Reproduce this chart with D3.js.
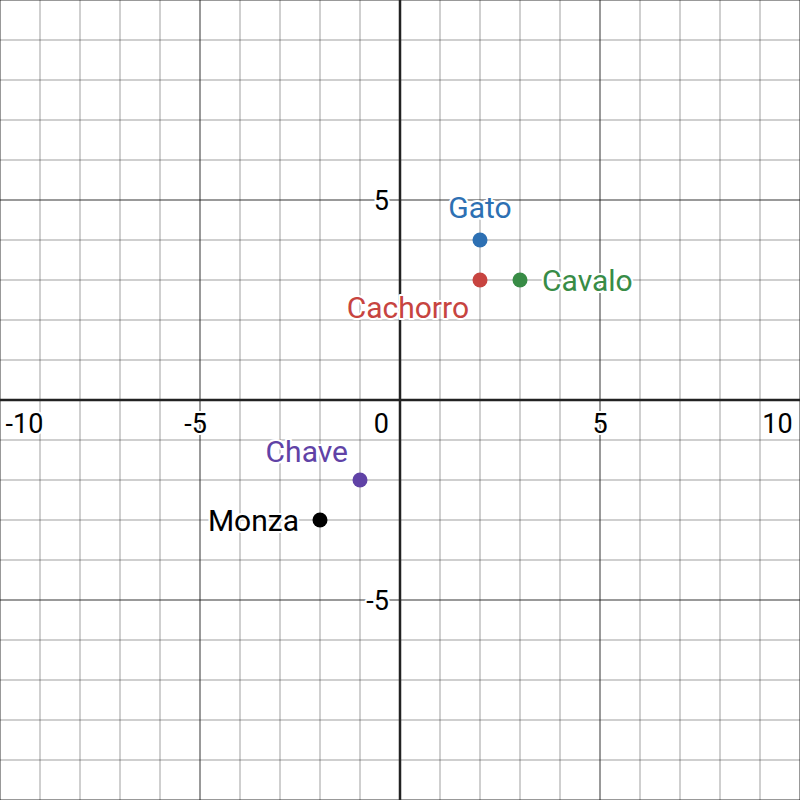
<!DOCTYPE html>
<html><head><meta charset="utf-8">
<script src="https://cdn.jsdelivr.net/npm/d3@7/dist/d3.min.js"></script>
<style>html,body{margin:0;padding:0;background:#fff;}svg{display:block;font-family:Roboto,"Noto Sans",sans-serif;font-weight:400;}</style>
</head><body><svg id="c" width="800" height="800"></svg>
<script>
const names = ["Gato", "Cachorro", "Cavalo", "Chave", "Monza"];
const xs = [2, 2, 3, -1, -2];
const ys = [4, 3, 3, -2, -3];
const colors = ["#2d70b3", "#c74440", "#388c46", "#6042a6", "#000000"];
const labelPos = ["above", "belowLeft", "right", "aboveLeft", "left"];
const xTicks = [-10, -5, 0, 5, 10];
const yTicks = [-5, 5];
const domain = [-10, 10];

const W = 800, H = 800;
const svg = d3.select("#c");
const x = d3.scaleLinear().domain(domain).range([0, W]);
const y = d3.scaleLinear().domain(domain).range([H, 0]);

const gridVals = d3.range(domain[0], domain[1] + 1, 1);
const g = svg.append("g");
const minors = gridVals.filter(v => v % 5 !== 0);
const majors = gridVals.filter(v => v % 5 === 0 && v !== 0);
function vlines(data, color) {
  g.append("g").selectAll("line").data(data).join("line")
    .attr("x1", d => x(d)).attr("x2", d => x(d))
    .attr("y1", 0).attr("y2", H).attr("stroke", color).attr("stroke-width", 2);
}
function hlines(data, color) {
  g.append("g").selectAll("line").data(data).join("line")
    .attr("y1", d => y(d)).attr("y2", d => y(d))
    .attr("x1", 0).attr("x2", W).attr("stroke", color).attr("stroke-width", 2);
}
vlines(minors, "rgba(0,0,0,0.19)");
hlines(minors, "rgba(0,0,0,0.19)");
vlines(majors, "rgba(0,0,0,0.4)");
hlines(majors, "rgba(0,0,0,0.4)");
// axes
svg.append("line").attr("x1", 0).attr("x2", W).attr("y1", y(0)).attr("y2", y(0)).attr("stroke", "#222").attr("stroke-width", 2.5);
svg.append("line").attr("y1", 0).attr("y2", H).attr("x1", x(0)).attr("x2", x(0)).attr("stroke", "#222").attr("stroke-width", 2.5);

function haloText(sel) {
  return sel.attr("stroke", "#fff").attr("stroke-width", 4).attr("paint-order", "stroke").attr("stroke-linejoin", "round");
}
const tickFont = 27;
const tl = svg.append("g").attr("font-size", tickFont).attr("fill", "#000");
xTicks.forEach(v => {
  const t = tl.append("text").text(v < 0 ? "-" + Math.abs(v) : String(v));
  haloText(t);
  if (v === 0) {
    t.attr("x", x(0) - 11).attr("y", y(0) + 33).attr("text-anchor", "end");
  } else {
    let px = x(v);
    const digitsW = String(Math.abs(v)).length * 15;
    px = Math.max(px, digitsW / 2 + 14);
    px = Math.min(px, W - digitsW / 2 - 7.5);
    t.attr("x", px + (v < 0 ? -4.5 : 0)).attr("y", y(0) + 33).attr("text-anchor", "middle");
  }
});
yTicks.forEach(v => {
  const t = tl.append("text").text(v < 0 ? "-" + Math.abs(v) : String(v))
    .attr("x", x(0) - 11).attr("y", y(v) + 9.5).attr("text-anchor", "end");
  haloText(t);
});

// points
svg.append("g").selectAll("circle").data(names).join("circle")
  .attr("cx", (d, i) => x(xs[i])).attr("cy", (d, i) => y(ys[i])).attr("r", 7.5)
  .attr("fill", (d, i) => colors[i]);

const lf = 30;
const lg = svg.append("g").attr("font-size", lf);
names.forEach((n, i) => {
  const px = x(xs[i]), py = y(ys[i]);
  const t = lg.append("text").text(n).attr("fill", colors[i]);
  haloText(t);
  const p = labelPos[i];
  if (p === "above") t.attr("x", px).attr("y", py - 22).attr("text-anchor", "middle");
  else if (p === "belowLeft") t.attr("x", px - 11).attr("y", py + 38).attr("text-anchor", "end");
  else if (p === "right") t.attr("x", px + 22).attr("y", py + 10.5).attr("text-anchor", "start");
  else if (p === "aboveLeft") t.attr("x", px - 12).attr("y", py - 18).attr("text-anchor", "end");
  else if (p === "left") t.attr("x", px - 21).attr("y", py + 10.5).attr("text-anchor", "end");
});
</script></body></html>
